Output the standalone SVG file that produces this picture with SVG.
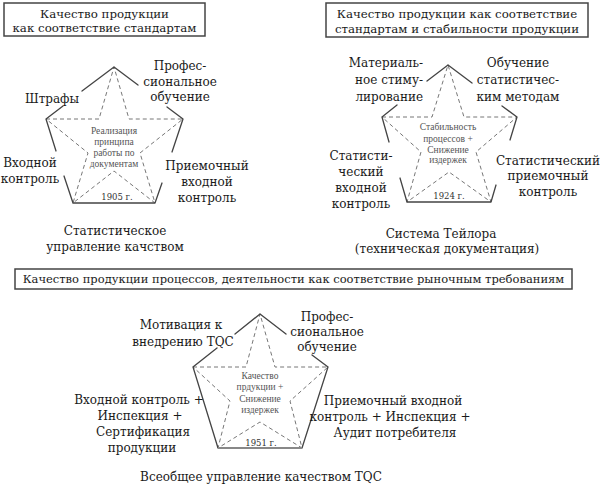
<svg xmlns="http://www.w3.org/2000/svg" width="600" height="487" viewBox="0 0 600 487">
<style>
.box{fill:#fff;stroke:#444;stroke-width:1.5}
.ttl{font-family:"DejaVu Serif","Liberation Serif",serif;font-size:11.8px;fill:#1a1a1a;text-anchor:middle}
.lbl{font-family:"DejaVu Serif","Liberation Serif",serif;font-size:12px;fill:#1a1a1a;text-anchor:middle}
.end{text-anchor:end}
.ctr{font-family:"Liberation Serif","DejaVu Serif",serif;font-size:9.5px;fill:#555;text-anchor:middle}
.yr{font-family:"DejaVu Serif","Liberation Serif",serif;font-size:8.5px;fill:#333;text-anchor:middle}
.solid{fill:none;stroke:#444;stroke-width:1.3;stroke-linecap:round}
.dash{fill:none;stroke:#777;stroke-width:1;stroke-dasharray:4 3}
</style>
<rect width="600" height="487" fill="#fff"/>

<g id="title1">
<rect class="box" x="4" y="3" width="201" height="33"/>
<text class="ttl" x="104.5" y="18">Качество продукции</text>
<text class="ttl" x="104.5" y="32">как соответствие стандартам</text>
</g>
<g id="title2">
<rect class="box" x="326" y="3" width="262" height="34"/>
<text class="ttl" x="457" y="17.5">Качество продукции как соответствие</text>
<text class="ttl" x="457" y="32.5">стандартам и стабильности продукции</text>
</g>
<g id="title3">
<rect class="box" x="15" y="269" width="557" height="20"/>
<text class="ttl" x="293.5" y="283" style="font-size:11.5px">Качество продукции процессов, деятельности как соответствие рыночным требованиям</text>
</g>

<g id="connectors">
<!-- star 1 -->
<polygon class="dash" points="46,119 99,119 114,67 129,119 183,119 140,153 155,203 114,171 73,203 88,153"/>
<path class="solid" d="M114,67 L82,91 M63,106 L46,119 M114,67 L138,85 M167,107 L183,119 M46,119 L56,151 M64,176 L73,203 L155,203 M183,119 L172,152 M162,183 L155,203"/>
<!-- star 2 -->
<polygon class="dash" points="382,117 432,117 448,65 464,117 517,117 476,152 491,202 449,172 407,202 421,152"/>
<path class="solid" d="M448,65 L427,81 M397,105 L382,117 M448,65 L472,83 M502,106 L517,117 M382,117 L389,142 M400,178 L407,202 L491,202 M517,117 L510,140 M496,185 L491,202"/>
<!-- star 3 -->
<polygon class="dash" points="193,367 246,367 260,314 275,367 328,367 290,401 302,448 260,422 218,448 230,401"/>
<path class="solid" d="M260,314 L235,334 M217,348 L193,367 L218,448 M260,314 L286,334 M312,355 L328,367 L302,448"/>
<line x1="218" y1="448" x2="302" y2="448" stroke="#888" stroke-width="2"/>
</g>

<g id="star1">
<text class="ctr" x="114" y="134">Реализация</text>
<text class="ctr" x="114" y="145">принципа</text>
<text class="ctr" x="114" y="156">работы по</text>
<text class="ctr" x="114" y="167">документам</text>
<text class="yr" x="117" y="199.5">1905 г.</text>
</g>
<g id="s1-obuchenie">
<text class="lbl" x="180" y="70">Профес-</text>
<text class="lbl" x="180" y="86">сиональное</text>
<text class="lbl" x="180" y="101">обучение</text>
</g>
<g id="s1-shtrafy"><text class="lbl" x="52" y="103">Штрафы</text></g>
<g id="s1-vhodnoi">
<text class="lbl" x="30" y="167">Входной</text>
<text class="lbl" x="30" y="183">контроль</text>
</g>
<g id="s1-priemochny">
<text class="lbl" x="207" y="170">Приемочный</text>
<text class="lbl" x="207" y="186">входной</text>
<text class="lbl" x="207" y="202">контроль</text>
</g>
<g id="s1-caption">
<text class="lbl" x="115" y="235">Статистическое</text>
<text class="lbl" x="115" y="251">управление качством</text>
</g>

<g id="star2">
<text class="ctr" x="448" y="130">Стабильность</text>
<text class="ctr" x="448" y="141.5">процессов +</text>
<text class="ctr" x="448" y="152.5">Снижение</text>
<text class="ctr" x="448" y="162.5">издержек</text>
<text class="yr" x="449" y="198.5">1924 г.</text>
</g>
<g id="s2-stimul">
<text class="lbl end" x="423" y="67">Материаль-</text>
<text class="lbl end" x="423" y="84">ное стиму-</text>
<text class="lbl end" x="423" y="101">лирование</text>
</g>
<g id="s2-obuchenie">
<text class="lbl" x="518" y="67">Обучение</text>
<text class="lbl" x="518" y="84">статистичес-</text>
<text class="lbl" x="518" y="101">ким методам</text>
</g>
<g id="s2-vhodnoi">
<text class="lbl" x="361" y="160">Статисти-</text>
<text class="lbl" x="361" y="176">ческий</text>
<text class="lbl" x="361" y="192">входной</text>
<text class="lbl" x="361" y="208">контроль</text>
</g>
<g id="s2-priemochny">
<text class="lbl" x="548" y="165">Статистический</text>
<text class="lbl" x="548" y="180">приемочный</text>
<text class="lbl" x="548" y="196">контроль</text>
</g>
<g id="s2-caption">
<text class="lbl" x="441" y="238">Система Тейлора</text>
<text class="lbl" x="447" y="253">(техническая документация)</text>
</g>

<g id="star3">
<text class="ctr" x="260" y="378.5">Качество</text>
<text class="ctr" x="260" y="390">прдукции +</text>
<text class="ctr" x="260" y="402">Снижение</text>
<text class="ctr" x="260" y="412.5">издержек</text>
<text class="yr" x="261" y="446">1951 г.</text>
</g>
<g id="s3-motivacia">
<text class="lbl" x="181" y="329">Мотивация к</text>
<text class="lbl" x="183" y="346">внедрению TQC</text>
</g>
<g id="s3-obuchenie">
<text class="lbl" x="327" y="321">Профес-</text>
<text class="lbl" x="327" y="336">сиональное</text>
<text class="lbl" x="327" y="351">обучение</text>
</g>
<g id="s3-vhodnoi">
<text class="lbl" x="139" y="404">Входной контроль +</text>
<text class="lbl" x="140" y="420">Инспекция +</text>
<text class="lbl" x="143" y="436">Сертификация</text>
<text class="lbl" x="142" y="452">продукции</text>
</g>
<g id="s3-priemochny">
<text class="lbl" x="393" y="405">Приемочный входной</text>
<text class="lbl" x="390" y="421">контроль + Инспекция +</text>
<text class="lbl" x="395" y="437">Аудит потребителя</text>
</g>
<g id="s3-caption">
<text class="lbl" x="261" y="481">Всеобщее управление качеством TQC</text>
</g>
</svg>
